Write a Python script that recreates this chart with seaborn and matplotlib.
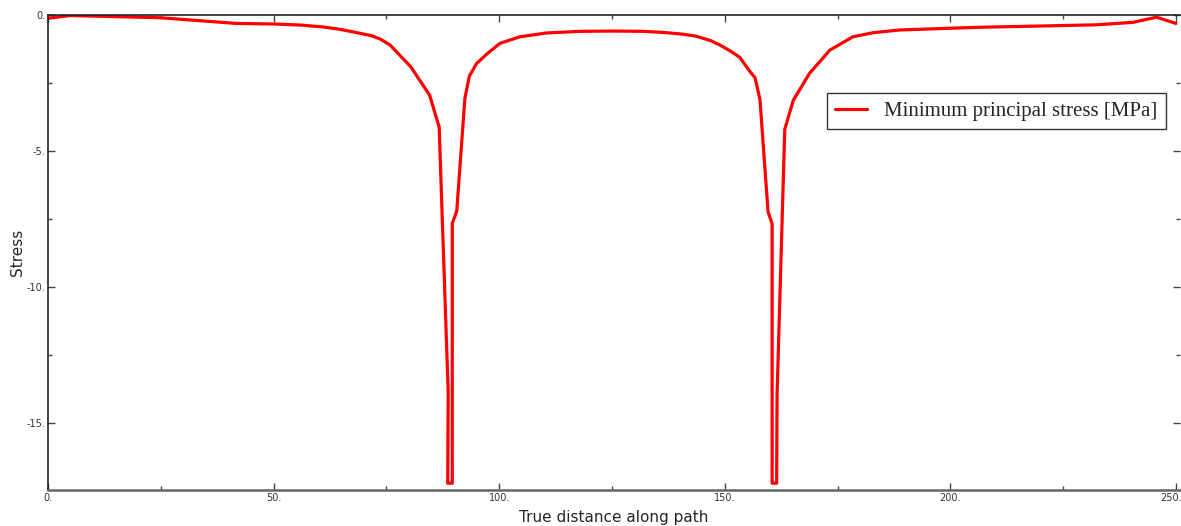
import numpy as np
import pandas as pd
import matplotlib
matplotlib.use('Agg')
import matplotlib.pyplot as plt
import matplotlib.transforms as mtransforms
import seaborn as sns
from matplotlib.ticker import MultipleLocator, FuncFormatter

# path distance [mm] and minimum principal stress [MPa]
distance = [0.0, 4.9, 24.8, 41.8, 49.9, 56.0, 61.0, 64.5, 67.6, 71.7, 73.6, 75.8,
            80.4, 84.6, 86.7, 88.7, 88.6, 89.6, 89.6, 90.6, 92.4, 93.4, 95.0, 97.5,
            100.2, 104.6, 110.5, 117.9, 125.2, 132.0, 136.3, 140.5, 143.7, 147.0,
            148.9, 151.3, 153.3, 155.5, 156.7, 157.8, 159.6, 160.5, 160.5, 161.5,
            161.6, 163.3, 165.2, 168.8, 173.3, 178.4, 182.9, 188.8, 206.5, 221.3,
            232.4, 240.5, 245.7, 250.0]
min_principal = [-0.12, -0.02, -0.10, -0.31, -0.33, -0.37, -0.44, -0.52, -0.62, -0.76,
                 -0.88, -1.10, -1.90, -2.95, -4.12, -13.85, -17.2, -17.2, -7.66, -7.2,
                 -3.06, -2.24, -1.78, -1.40, -1.04, -0.80, -0.66, -0.60, -0.59, -0.60,
                 -0.64, -0.70, -0.78, -0.95, -1.10, -1.33, -1.55, -2.06, -2.30, -3.10,
                 -7.23, -7.68, -17.2, -17.2, -13.9, -4.2, -3.13, -2.14, -1.29, -0.80,
                 -0.65, -0.55, -0.45, -0.40, -0.36, -0.27, -0.08, -0.31]
series_name = 'Minimum principal stress [MPa]'

df = pd.DataFrame({'distance': distance, 'stress': min_principal})

sns.set_style('ticks')
plt.rcParams['font.family'] = ['DejaVu Sans']

fig = plt.figure(figsize=(11.81, 5.26), dpi=100)
ax = fig.add_axes([48 / 1181, 36 / 526, 1132 / 1181, 475 / 526])

sns.lineplot(data=df, x='distance', y='stress', ax=ax, color='#ff0000',
             linewidth=2.3, estimator=None, sort=False, label=series_name)

ax.set_xlim(0, 250.9)
ax.set_ylim(-17.45, 0)

ax.xaxis.set_major_locator(MultipleLocator(50))
ax.xaxis.set_minor_locator(MultipleLocator(25))
ax.yaxis.set_major_locator(MultipleLocator(5))
ax.yaxis.set_minor_locator(MultipleLocator(2.5))
fmt = FuncFormatter(lambda v, pos: f'{int(round(v))}.')
ax.xaxis.set_major_formatter(fmt)
ax.yaxis.set_major_formatter(fmt)

ax.tick_params(which='both', direction='in', top=True, right=True,
               labelsize=7, labelcolor='#333333', color='#444444', pad=2)
ax.tick_params(which='major', length=5, width=1)
ax.tick_params(which='minor', length=3, width=1)

ax.spines['right'].set_visible(False)
for side in ['left', 'top']:
    ax.spines[side].set_color('#222222')
    ax.spines[side].set_linewidth(1.2)
ax.spines['bottom'].set_color('#666666')
ax.spines['bottom'].set_linewidth(1.8)

ax.set_xlabel('True distance along path', fontsize=11, labelpad=5)
ax.set_ylabel('Stress', fontsize=11, labelpad=1)

# keep the last x label (250.) inside the figure edge
fig.canvas.draw()
for lab in ax.get_xticklabels():
    if lab.get_text() == '250.':
        lab.set_horizontalalignment('right')
        lab.set_transform(lab.get_transform() +
                          mtransforms.ScaledTranslation(4 / 72, 0, fig.dpi_scale_trans))

leg = ax.legend(loc='upper right', bbox_to_anchor=(0.9876, 0.836),
                prop={'family': 'Liberation Serif', 'size': 15},
                frameon=True, fancybox=False, borderpad=0.4,
                handlelength=1.5, handletextpad=0.85, borderaxespad=0)
leg.get_frame().set_edgecolor('black')
leg.get_frame().set_linewidth(1.0)

fig.savefig('out.png', dpi=100)
